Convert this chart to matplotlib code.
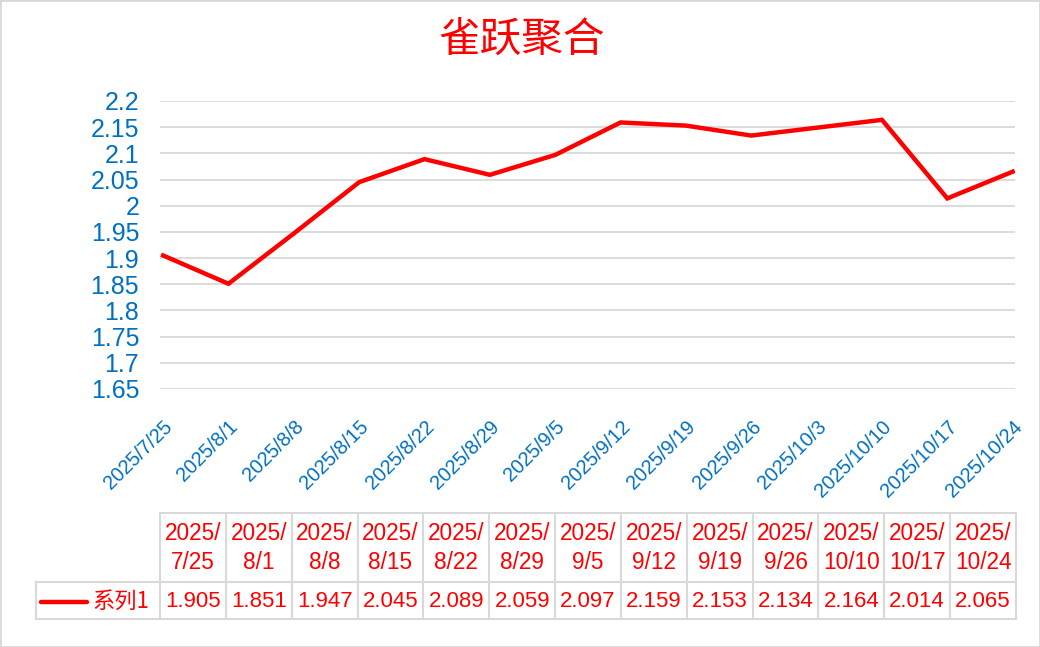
import pandas as pd
import matplotlib.pyplot as plt
from matplotlib.patches import Rectangle

# data
dates = ['2025/7/25', '2025/8/1', '2025/8/8', '2025/8/15', '2025/8/22', '2025/8/29',
         '2025/9/5', '2025/9/12', '2025/9/19', '2025/9/26', '2025/10/10', '2025/10/17',
         '2025/10/24']
values = [1.905, 1.851, 1.947, 2.045, 2.089, 2.059, 2.097, 2.159, 2.153, 2.134,
          2.164, 2.014, 2.065]
series_name = '系列1'
title = '雀跃聚合'
y_ticks = [1.65, 1.7, 1.75, 1.8, 1.85, 1.9, 1.95, 2.0, 2.05, 2.1, 2.15, 2.2]
y_tick_labels = ['1.65', '1.7', '1.75', '1.8', '1.85', '1.9', '1.95', '2', '2.05',
                 '2.1', '2.15', '2.2']

RED = '#FF0000'
BLUE = '#0070C0'
GRID = '#D9D9D9'

plt.rcParams['font.family'] = ['Liberation Sans', 'Noto Sans CJK SC']

x = pd.to_datetime(dates, format='%Y/%m/%d')
week_ticks = pd.date_range(x[0], x[-1], freq='7D')
week_labels = [f'{d.year}/{d.month}/{d.day}' for d in week_ticks]

fig = plt.figure(figsize=(10.4, 6.47), dpi=100)
fig.patches.append(Rectangle((0, 0), 1, 1, transform=fig.transFigure, fill=False,
                             edgecolor=GRID, lw=2))

fig.text(0.502, 0.937, title, fontsize=30, color=RED, family='Noto Sans CJK SC',
         ha='center', va='center')

# ========================
# line chart
# ========================
ax = fig.add_axes([160 / 1040, 1 - 389 / 647, 855 / 1040, 288 / 647])
ax.plot(x, values, color=RED, lw=3.2, solid_joinstyle='miter', zorder=3)
ax.set_xlim(x[0] - pd.Timedelta(hours=8), x[-1] + pd.Timedelta(hours=6))
ax.set_ylim(1.65, 2.2)
ax.set_yticks(y_ticks)
ax.set_yticklabels(y_tick_labels)
ax.set_xticks(week_ticks)
ax.set_xticklabels(week_labels, rotation=45, ha='right', va='top',
                   rotation_mode='anchor')
ax.tick_params(axis='y', length=0, pad=15, labelsize=18, labelcolor=BLUE)
ax.tick_params(axis='x', length=0, pad=20, labelsize=14.3, labelcolor=BLUE)
ax.grid(axis='y', color=GRID, lw=1.3)
ax.set_axisbelow(True)
for s in ax.spines.values():
    s.set_visible(False)

# ========================
# data table
# ========================
ncol = len(dates)
col_px = 856 / ncol
leg_w = 124 / col_px
split = 0.35
tab = fig.add_axes([36 / 1040, 1 - 619 / 647, 980 / 1040, 106 / 647])
tab.set_xlim(-leg_w, ncol)
tab.set_ylim(0, 1)
tab.axis('off')

lk = dict(color=GRID, lw=1.5, clip_on=False)
for i in range(ncol + 1):
    tab.plot([i, i], [0, 1], **lk)
tab.plot([-leg_w, -leg_w], [0, split], **lk)
tab.plot([0, ncol], [1, 1], **lk)
tab.plot([-leg_w, ncol], [split, split], **lk)
tab.plot([-leg_w, ncol], [0, 0], **lk)

for i, (d, v) in enumerate(zip(dates, values)):
    head = d.replace('/', '/\n', 1)
    tab.text(i + 0.5, 0.67, head, ha='center', va='center', color=RED,
             fontsize=16.3, linespacing=1.3)
    tab.text(i + 0.5, 0.165, f'{v:.3f}', ha='center', va='center', color=RED,
             fontsize=16)

tab.plot([-leg_w + 5 / col_px, -leg_w + 51 / col_px], [0.165, 0.165], color=RED,
         lw=3.2, solid_capstyle='round', clip_on=False)
tab.text(-leg_w + 56 / col_px, 0.165, series_name, ha='left', va='center', color=RED,
         fontsize=16, family=['Noto Sans CJK SC', 'Liberation Sans'])

fig.savefig('out.png', dpi=100)
